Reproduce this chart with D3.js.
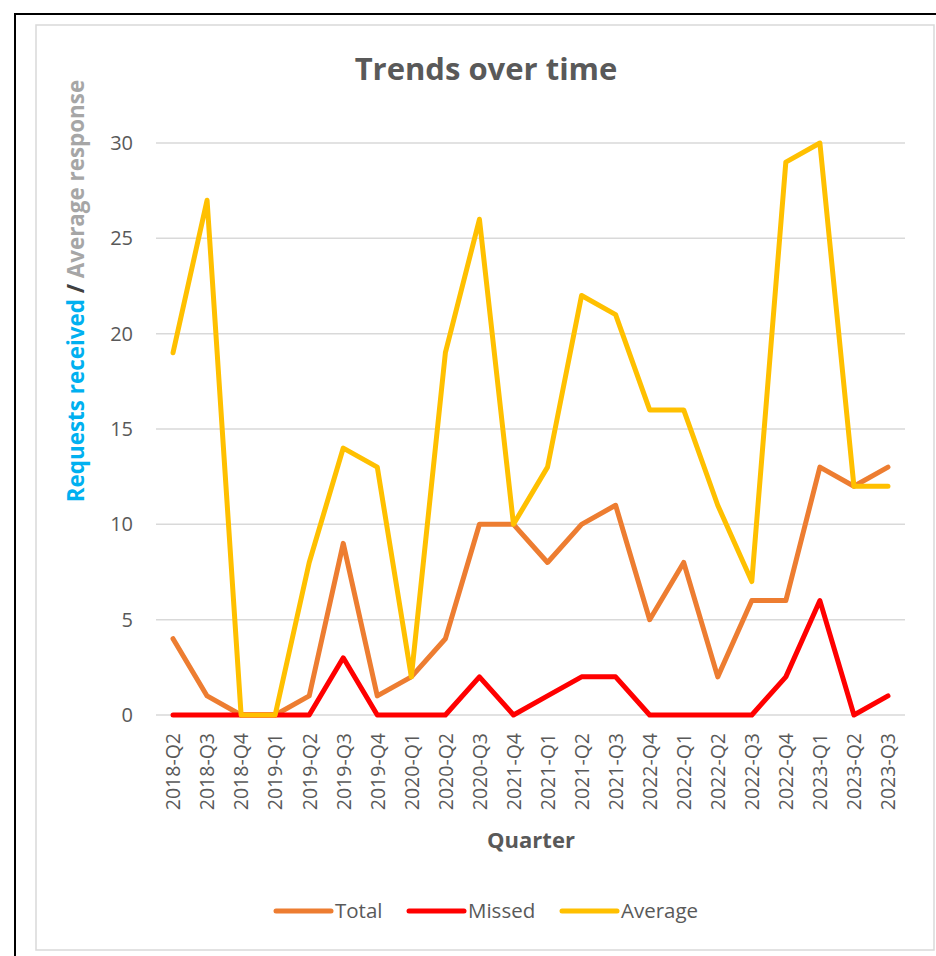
<!DOCTYPE html>
<html>
<head>
<meta charset="utf-8">
<script src="https://cdn.jsdelivr.net/npm/d3@7"></script>
<style>
  html, body { margin: 0; padding: 0; background: #fff; }
  svg { display: block; font-family: "Open Sans", sans-serif; }
</style>
</head>
<body>
<svg id="chart" width="936" height="956"></svg>
<script>
// Quarter labels along the x axis
const quarters = ["2018-Q2","2018-Q3","2018-Q4","2019-Q1","2019-Q2","2019-Q3","2019-Q4",
  "2020-Q1","2020-Q2","2020-Q3","2021-Q4","2021-Q1","2021-Q2","2021-Q3","2022-Q4",
  "2022-Q1","2022-Q2","2022-Q3","2022-Q4","2023-Q1","2023-Q2","2023-Q3"];

// Series values
const totalValues   = [4, 1, 0, 0, 1, 9, 1, 2, 4, 10, 10, 8, 10, 11, 5, 8, 2, 6, 6, 13, 12, 13];
const missedValues  = [0, 0, 0, 0, 0, 3, 0, 0, 0, 2, 0, 1, 2, 2, 0, 0, 0, 0, 2, 6, 0, 1];
const averageValues = [19, 27, 0, 0, 8, 14, 13, 2, 19, 26, 10, 13, 22, 21, 16, 16, 11, 7, 29, 30, 12, 12];

const seriesNames  = ["Total", "Missed", "Average"];
const seriesColors = ["#ED7D31", "#FF0000", "#FFC000"];
const yTicks = [0, 5, 10, 15, 20, 25, 30];

const series = [
  { name: seriesNames[0], color: seriesColors[0], values: totalValues },
  { name: seriesNames[1], color: seriesColors[1], values: missedValues },
  { name: seriesNames[2], color: seriesColors[2], values: averageValues }
];

const svg = d3.select("#chart");
const textColor = "#595959";

// Frames
svg.append("rect").attr("x", 15).attr("y", 14).attr("width", 940).attr("height", 960)
  .attr("fill", "none").attr("stroke", "#000").attr("stroke-width", 2);
svg.append("rect").attr("x", 36).attr("y", 25).attr("width", 898).attr("height", 925)
  .attr("fill", "#fff").attr("stroke", "#D9D9D9").attr("stroke-width", 1.5);

const plot = { left: 156, right: 905, top: 143, bottom: 715 };

// Points are indexed by position, since some quarter labels repeat
const idx = d3.range(quarters.length);
const x = d3.scalePoint().domain(idx).range([plot.left, plot.right]).padding(0.5);
const y = d3.scaleLinear().domain([0, 30]).range([plot.bottom, plot.top]);

// Gridlines
svg.append("g").selectAll("line").data(yTicks).join("line")
  .attr("x1", plot.left).attr("x2", plot.right)
  .attr("y1", d => y(d)).attr("y2", d => y(d))
  .attr("stroke", "#D9D9D9").attr("stroke-width", 1.5);

// Y axis labels
const yAxis = svg.append("g").attr("transform", `translate(${plot.left},0)`)
  .call(d3.axisLeft(y).tickValues(yTicks).tickSize(0).tickPadding(23));
yAxis.select(".domain").remove();
yAxis.selectAll("text").attr("font-size", 20).attr("fill", textColor)
  .attr("font-family", "'Open Sans', sans-serif");

// X axis labels (rotated)
const xAxis = svg.append("g").attr("transform", `translate(0,${plot.bottom})`)
  .call(d3.axisBottom(x).tickSize(0).tickFormat(i => quarters[i]));
xAxis.select(".domain").remove();
xAxis.selectAll("text")
  .attr("font-size", 19.5).attr("fill", textColor)
  .attr("font-family", "'Open Sans', sans-serif")
  .attr("text-anchor", "end")
  .attr("x", 0).attr("y", 0)
  .attr("dy", "0.35em")
  .attr("transform", "translate(0,18) rotate(-90)");

// Lines
const line = d3.line().x((d, i) => x(i)).y(d => y(d));
svg.append("g").selectAll("path").data(series).join("path")
  .attr("d", d => line(d.values))
  .attr("fill", "none")
  .attr("stroke", d => d.color)
  .attr("stroke-width", 5)
  .attr("stroke-linejoin", "round")
  .attr("stroke-linecap", "round");

// Title
svg.append("text").attr("x", 486).attr("y", 80).attr("text-anchor", "middle")
  .attr("font-size", 31).attr("font-weight", "bold").attr("fill", textColor)
  .text("Trends over time");

// Y axis title
const yTitle = svg.append("text")
  .attr("transform", "translate(84,291) rotate(-90)")
  .attr("text-anchor", "middle")
  .attr("font-size", 22.4).attr("font-weight", "bold");
yTitle.append("tspan").attr("fill", "#00B0F0").text("Requests received");
yTitle.append("tspan").attr("fill", "#404040").text(" / ");
yTitle.append("tspan").attr("fill", "#A6A6A6").text("Average response");

// X axis title
svg.append("text").attr("x", 531).attr("y", 848).attr("text-anchor", "middle")
  .attr("font-size", 22).attr("font-weight", "bold").attr("fill", textColor)
  .text("Quarter");

// Legend
const legendX = [276, 409, 562];
const legend = svg.append("g").selectAll("g").data(series).join("g")
  .attr("transform", (d, i) => `translate(${legendX[i]},911)`);
legend.append("line").attr("x1", 0).attr("x2", 55)
  .attr("stroke", d => d.color).attr("stroke-width", 5).attr("stroke-linecap", "round");
legend.append("text").attr("x", 59).attr("dy", "0.35em")
  .attr("font-size", 20.5).attr("fill", textColor).text(d => d.name);
</script>
</body>
</html>
